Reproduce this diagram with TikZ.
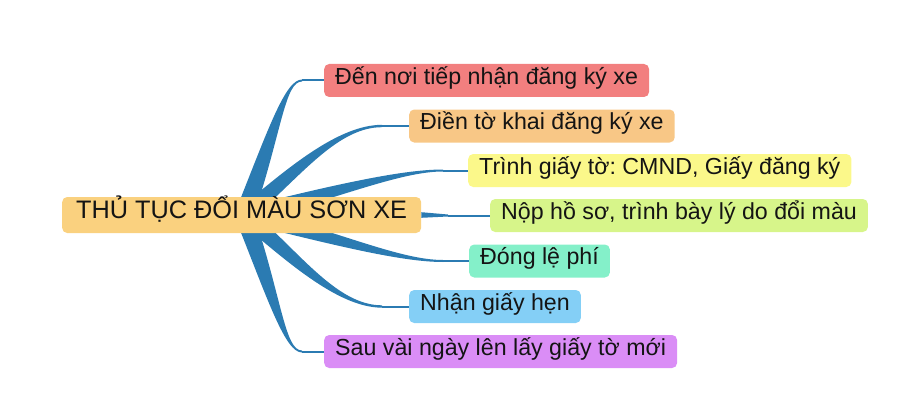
\documentclass[tikz,border=0pt]{standalone}
\usepackage{fontspec}
\setmainfont{Liberation Sans}
\frenchspacing
\definecolor{limbblue}{HTML}{2B7BB2}
\definecolor{inkblack}{HTML}{141414}
\definecolor{rootorange}{HTML}{FAD17F}
\definecolor{taskred}{HTML}{F27F7F}
\definecolor{taskorange}{HTML}{F8C786}
\definecolor{taskyellow}{HTML}{FBF88A}
\definecolor{taskgreen}{HTML}{D7F58A}
\definecolor{taskmint}{HTML}{84F0C9}
\definecolor{taskblue}{HTML}{84CFF6}
\definecolor{taskpurple}{HTML}{DA8DF6}
\tikzset{
  topic/.style={rectangle,rounded corners=5pt,anchor=west,text=inkblack,inner ysep=0pt,text height=0.75em,text depth=0.03em},
  maintopic/.style={topic,fill=rootorange,inner xsep=14pt,minimum height=36pt,font=\fontsize{25.3}{30}\selectfont},
  task/.style={topic,inner xsep=11pt,minimum height=33pt,font=\fontsize{23.2}{28}\selectfont},
  limb/.style={fill=limbblue},
  twig/.style={draw=limbblue,line width=2pt},
}

\begin{document}
\begin{tikzpicture}[x=1pt,y=-1pt]
\useasboundingbox (0,0) rectangle (900,412);
% \draw[help lines,step=50] (0,0) grid (900,412);
\coordinate (hub) at (244,215);
\coordinate (t1) at (302,80.5);
\coordinate (t2) at (382,126);
\coordinate (t3) at (443,170.5);
\coordinate (t4) at (448,215.5);
\coordinate (t5) at (443,261);
\coordinate (t6) at (382,306.5);
\coordinate (t7) at (302,351.5);
% tapered limbs, drawn first so that the root box hides their base
\fill[limb] ([xshift=-10pt]hub) .. controls (268,130) and (285,79.5) .. ([yshift=1pt]t1) -- ([yshift=-1pt]t1) .. controls (285,81.5) and (282,130) .. ([xshift=10pt]hub) -- cycle;
\fill[limb] ([xshift=-12pt]hub) .. controls (287,168) and (338,125) .. ([yshift=1.2pt]t2) -- ([yshift=-1.2pt]t2) .. controls (338,127) and (301,176) .. ([xshift=12pt]hub) -- cycle;
\fill[limb] ([yshift=8pt]hub) .. controls (330,186) and (400,169.5) .. ([yshift=1pt]t3) -- ([yshift=-1pt]t3) .. controls (400,171.5) and (340,198) .. ([yshift=-8pt]hub) -- cycle;
\fill[limb] ([yshift=8pt]hub) .. controls (340,232) and (400,260) .. ([yshift=1pt]t5) -- ([yshift=-1pt]t5) .. controls (400,262) and (330,244) .. ([yshift=-8pt]hub) -- cycle;
\fill[limb] ([xshift=12pt]hub) .. controls (301,254) and (338,305.5) .. ([yshift=1.2pt]t6) -- ([yshift=-1.2pt]t6) .. controls (338,307.5) and (287,262) .. ([xshift=-12pt]hub) -- cycle;
\fill[limb] ([xshift=-10pt]hub) .. controls (268,300) and (285,352.5) .. ([yshift=-1pt]t7) -- ([yshift=1pt]t7) .. controls (285,350.5) and (282,300) .. ([xshift=10pt]hub) -- cycle;
%
\node (root) [maintopic] at (62,215) {THỦ TỤC ĐỔI MÀU SƠN XE};
\fill[limb] ([yshift=2.8pt]root.east) -- ([yshift=1pt]t4) -- ([yshift=-1pt]t4) -- ([yshift=-2.8pt]root.east) -- cycle;
%
\node (b1) [task,fill=taskred] at (324,80.5) {Đến nơi tiếp nhận đăng ký xe};
\node (b2) [task,fill=taskorange] at (409,126) {Điền tờ khai đăng ký xe};
\node (b3) [task,fill=taskyellow] at (468,170.5) {Trình giấy tờ: CMND, Giấy đăng ký};
\node (b4) [task,fill=taskgreen] at (490,215.5) {Nộp hồ sơ, trình bày lý do đổi màu};
\node (b5) [task,fill=taskmint] at (469,261) {Đóng lệ phí};
\node (b6) [task,fill=taskblue] at (409,306.5) {Nhận giấy hẹn};
\node (b7) [task,fill=taskpurple] at (324,351.5) {Sau vài ngày lên lấy giấy tờ mới};
%
\draw[twig] (t1) -- (b1.west);
\draw[twig] (t2) -- (b2.west);
\draw[twig] (t3) -- (b3.west);
\draw[twig] (t4) -- (b4.west);
\draw[twig] (t5) -- (b5.west);
\draw[twig] (t6) -- (b6.west);
\draw[twig] (t7) -- (b7.west);
\end{tikzpicture}
\end{document}
